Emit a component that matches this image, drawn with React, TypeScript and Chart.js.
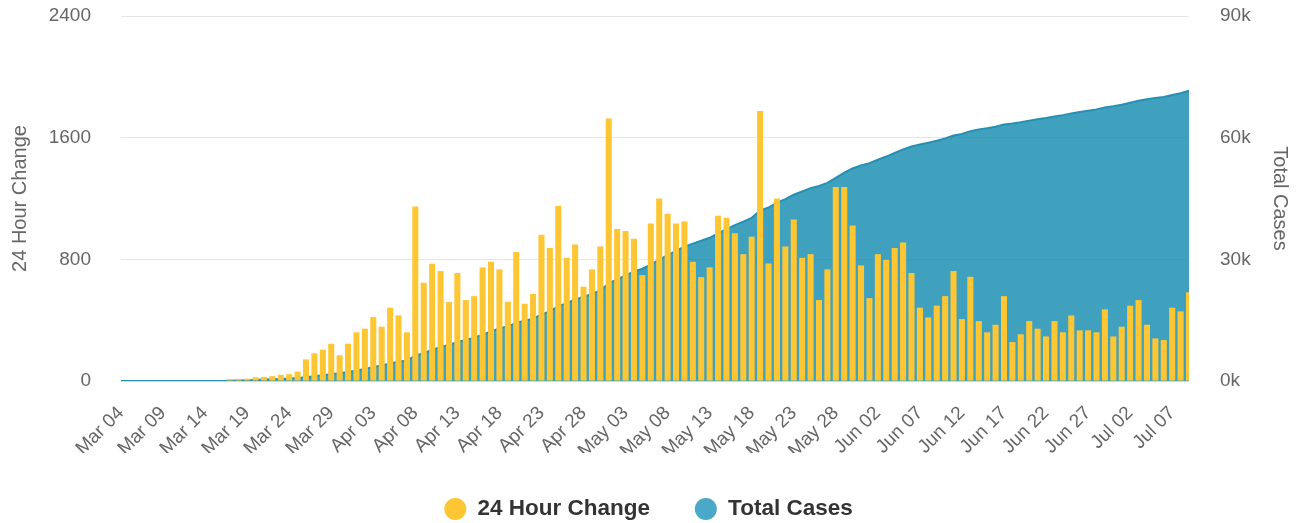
import React, { useEffect, useRef } from 'react';
import { Chart, registerables } from 'chart.js';

Chart.register(...registerables);

const DATES: string[] = [
  'Mar 04', 'Mar 05', 'Mar 06', 'Mar 07', 'Mar 08', 'Mar 09', 'Mar 10', 'Mar 11', 'Mar 12', 'Mar 13',
  'Mar 14', 'Mar 15', 'Mar 16', 'Mar 17', 'Mar 18', 'Mar 19', 'Mar 20', 'Mar 21', 'Mar 22', 'Mar 23',
  'Mar 24', 'Mar 25', 'Mar 26', 'Mar 27', 'Mar 28', 'Mar 29', 'Mar 30', 'Mar 31',
  'Apr 01', 'Apr 02', 'Apr 03', 'Apr 04', 'Apr 05', 'Apr 06', 'Apr 07', 'Apr 08', 'Apr 09', 'Apr 10',
  'Apr 11', 'Apr 12', 'Apr 13', 'Apr 14', 'Apr 15', 'Apr 16', 'Apr 17', 'Apr 18', 'Apr 19', 'Apr 20',
  'Apr 21', 'Apr 22', 'Apr 23', 'Apr 24', 'Apr 25', 'Apr 26', 'Apr 27', 'Apr 28', 'Apr 29', 'Apr 30',
  'May 01', 'May 02', 'May 03', 'May 04', 'May 05', 'May 06', 'May 07', 'May 08', 'May 09', 'May 10',
  'May 11', 'May 12', 'May 13', 'May 14', 'May 15', 'May 16', 'May 17', 'May 18', 'May 19', 'May 20',
  'May 21', 'May 22', 'May 23', 'May 24', 'May 25', 'May 26', 'May 27', 'May 28', 'May 29', 'May 30', 'May 31',
  'Jun 01', 'Jun 02', 'Jun 03', 'Jun 04', 'Jun 05', 'Jun 06', 'Jun 07', 'Jun 08', 'Jun 09', 'Jun 10',
  'Jun 11', 'Jun 12', 'Jun 13', 'Jun 14', 'Jun 15', 'Jun 16', 'Jun 17', 'Jun 18', 'Jun 19', 'Jun 20',
  'Jun 21', 'Jun 22', 'Jun 23', 'Jun 24', 'Jun 25', 'Jun 26', 'Jun 27', 'Jun 28', 'Jun 29', 'Jun 30',
  'Jul 01', 'Jul 02', 'Jul 03', 'Jul 04', 'Jul 05', 'Jul 06', 'Jul 07', 'Jul 08', 'Jul 09',
];

const DAILY_CHANGE: number[] = [
  0, 0, 0, 0, 0, 0, 0, 0, 0, 0, 0, 0, 0, 12, 14, 15, 25, 27, 32, 40,
  45, 62, 142, 182, 206, 245, 169, 245, 320, 344, 420, 357, 482, 431, 320, 1148, 646, 771, 723, 519,
  710, 532, 558, 747, 784, 734, 521, 848, 508, 572, 961, 874, 1150, 810, 898, 620, 734, 885, 1726, 999,
  986, 935, 696, 1036, 1200, 1099, 1036, 1049, 784, 683, 747, 1086, 1073, 972, 834, 948, 1776, 773, 1200, 885,
  1062, 810, 834, 532, 734, 1275, 1275, 1023, 760, 545, 834, 797, 874, 911, 710, 482, 418, 495, 558, 723,
  407, 685, 394, 320, 370, 558, 256, 307, 394, 344, 293, 394, 320, 431, 333, 333, 320, 471, 293, 357,
  495, 532, 370, 280, 269, 482, 458, 583,
];

const TOTAL_CASES: number[] = [
  0, 0, 0, 0, 0, 0, 0, 0, 0, 0, 0, 0, 0, 62, 126, 191, 266, 343, 425, 515,
  610, 722, 914, 1146, 1402, 1697, 1916, 2211, 2581, 2975, 3445, 3852, 4334, 4765, 5085, 6233, 6879, 7650, 8373, 8892,
  9602, 10134, 10692, 11439, 12223, 12957, 13478, 14326, 14834, 15406, 16367, 17241, 18391, 19201, 20099, 20719, 21453, 22338, 24064, 25063,
  26049, 26984, 27680, 28716, 29916, 31015, 32051, 33100, 33884, 34567, 35314, 36400, 37473, 38445, 39279, 40227, 42003, 42776, 43976, 44861,
  45923, 46733, 47567, 48099, 48833, 50108, 51383, 52406, 53166, 53711, 54545, 55342, 56216, 57127, 57837, 58319, 58737, 59232, 59790, 60513,
  60920, 61605, 61999, 62319, 62689, 63247, 63503, 63810, 64204, 64548, 64841, 65235, 65555, 65986, 66319, 66652, 66972, 67443, 67736, 68093,
  68588, 69120, 69490, 69770, 70039, 70521, 70979, 71562,
];

const LEFT_AXIS = [0, 800, 1600, 2400];
const RIGHT_AXIS = [0, 30000, 60000, 90000];
const LABEL_STEP = 5;

const SERIES_NAMES = ['24 Hour Change', 'Total Cases'];
const BAR_COLOR = '#FFC633';
const AREA_FILL = 'rgba(16,138,174,0.8)';
const AREA_LINE = '#2590B4';
const LEGEND_COLORS = ['#FFC633', '#4AA8C8'];
const FONT = "'Liberation Sans', Arial, Helvetica, sans-serif";
const TEXT = '#666666';

export default function App() {
  const ref = useRef<HTMLCanvasElement>(null);

  useEffect(() => {
    const canvas = ref.current;
    if (!canvas) return;
    const chart = new Chart(canvas, {
      type: 'bar',
      data: {
        labels: DATES,
        datasets: [
          {
            type: 'bar',
            label: SERIES_NAMES[0],
            data: DAILY_CHANGE,
            backgroundColor: BAR_COLOR,
            borderWidth: 0,
            yAxisID: 'y',
            order: 0,
            barPercentage: 0.72,
            categoryPercentage: 1,
          } as any,
          {
            type: 'line',
            label: SERIES_NAMES[1],
            data: TOTAL_CASES,
            borderColor: AREA_LINE,
            backgroundColor: AREA_FILL,
            fill: 'origin',
            borderWidth: 2,
            pointRadius: 0,
            pointHoverRadius: 0,
            tension: 0,
            yAxisID: 'y1',
            order: 1,
          } as any,
        ],
      },
      options: {
        responsive: false,
        animation: false,
        devicePixelRatio: 1,
        layout: { padding: { top: 16, bottom: -7.25, left: 0, right: 0 } },
        plugins: {
          tooltip: { enabled: false },
          legend: {
            position: 'bottom',
            labels: {
              usePointStyle: true,
              pointStyleWidth: 22,
              boxHeight: 15.56,
              padding: 44.75,
              color: '#333333',
              font: { family: FONT, size: 22.5, weight: 'bold' },
              generateLabels: (c: any) => {
                const items = (Chart.defaults.plugins.legend.labels as any).generateLabels(c);
                return items.map((it: any) => ({
                  ...it,
                  fillStyle: LEGEND_COLORS[it.datasetIndex],
                  strokeStyle: LEGEND_COLORS[it.datasetIndex],
                  lineWidth: 0,
                  pointStyle: 'circle',
                }));
              },
            },
          },
        },
        scales: {
          x: {
            offset: false,
            grid: { display: false },
            border: { display: false },
            ticks: {
              autoSkip: false,
              maxRotation: 45,
              minRotation: 45,
              padding: 13,
              color: TEXT,
              font: { family: FONT, size: 19 },
              callback: (_v: any, i: number) => (i % LABEL_STEP === 0 ? DATES[i] : ''),
            },
            afterFit: (s: any) => {
              s.height = 72;
            },
          },
          y: {
            position: 'left',
            min: LEFT_AXIS[0],
            max: LEFT_AXIS[LEFT_AXIS.length - 1],
            ticks: {
              stepSize: LEFT_AXIS[1] - LEFT_AXIS[0],
              padding: 0,
              color: TEXT,
              font: { family: FONT, size: 19 },
              callback: (v: any) => String(v),
            },
            grid: {
              drawTicks: true,
              tickLength: 30,
              tickColor: 'rgba(0,0,0,0)',
              lineWidth: 1,
              color: (ctx: any) => (ctx.tick && ctx.tick.value === 0 ? '#ccd6eb' : '#e6e6e6'),
            },
            border: { display: false },
            title: {
              display: true,
              text: SERIES_NAMES[0],
              color: TEXT,
              font: { family: FONT, size: 20 },
              padding: { top: 8, bottom: 0 },
            },
            afterFit: (s: any) => {
              s.width = 121;
            },
          },
          y1: {
            position: 'right',
            min: RIGHT_AXIS[0],
            max: RIGHT_AXIS[RIGHT_AXIS.length - 1],
            ticks: {
              stepSize: RIGHT_AXIS[1] - RIGHT_AXIS[0],
              padding: 0,
              color: TEXT,
              font: { family: FONT, size: 19 },
              callback: (v: any) => `${Number(v) / 1000}k`,
            },
            grid: {
              display: true,
              drawOnChartArea: false,
              drawTicks: true,
              tickLength: 31,
              tickColor: 'rgba(0,0,0,0)',
            },
            border: { display: false },
            title: {
              display: true,
              text: SERIES_NAMES[1],
              color: TEXT,
              font: { family: FONT, size: 20 },
              padding: { top: 5.5, bottom: 0 },
            },
            afterFit: (s: any) => {
              s.width = 108;
            },
          },
        },
      } as any,
    });
    return () => chart.destroy();
  }, []);

  return (
    <div style={{ position: 'fixed', left: 0, top: 0, width: 1297, height: 523, background: '#ffffff' }}>
      <canvas ref={ref} width={1297} height={523} />
    </div>
  );
}
